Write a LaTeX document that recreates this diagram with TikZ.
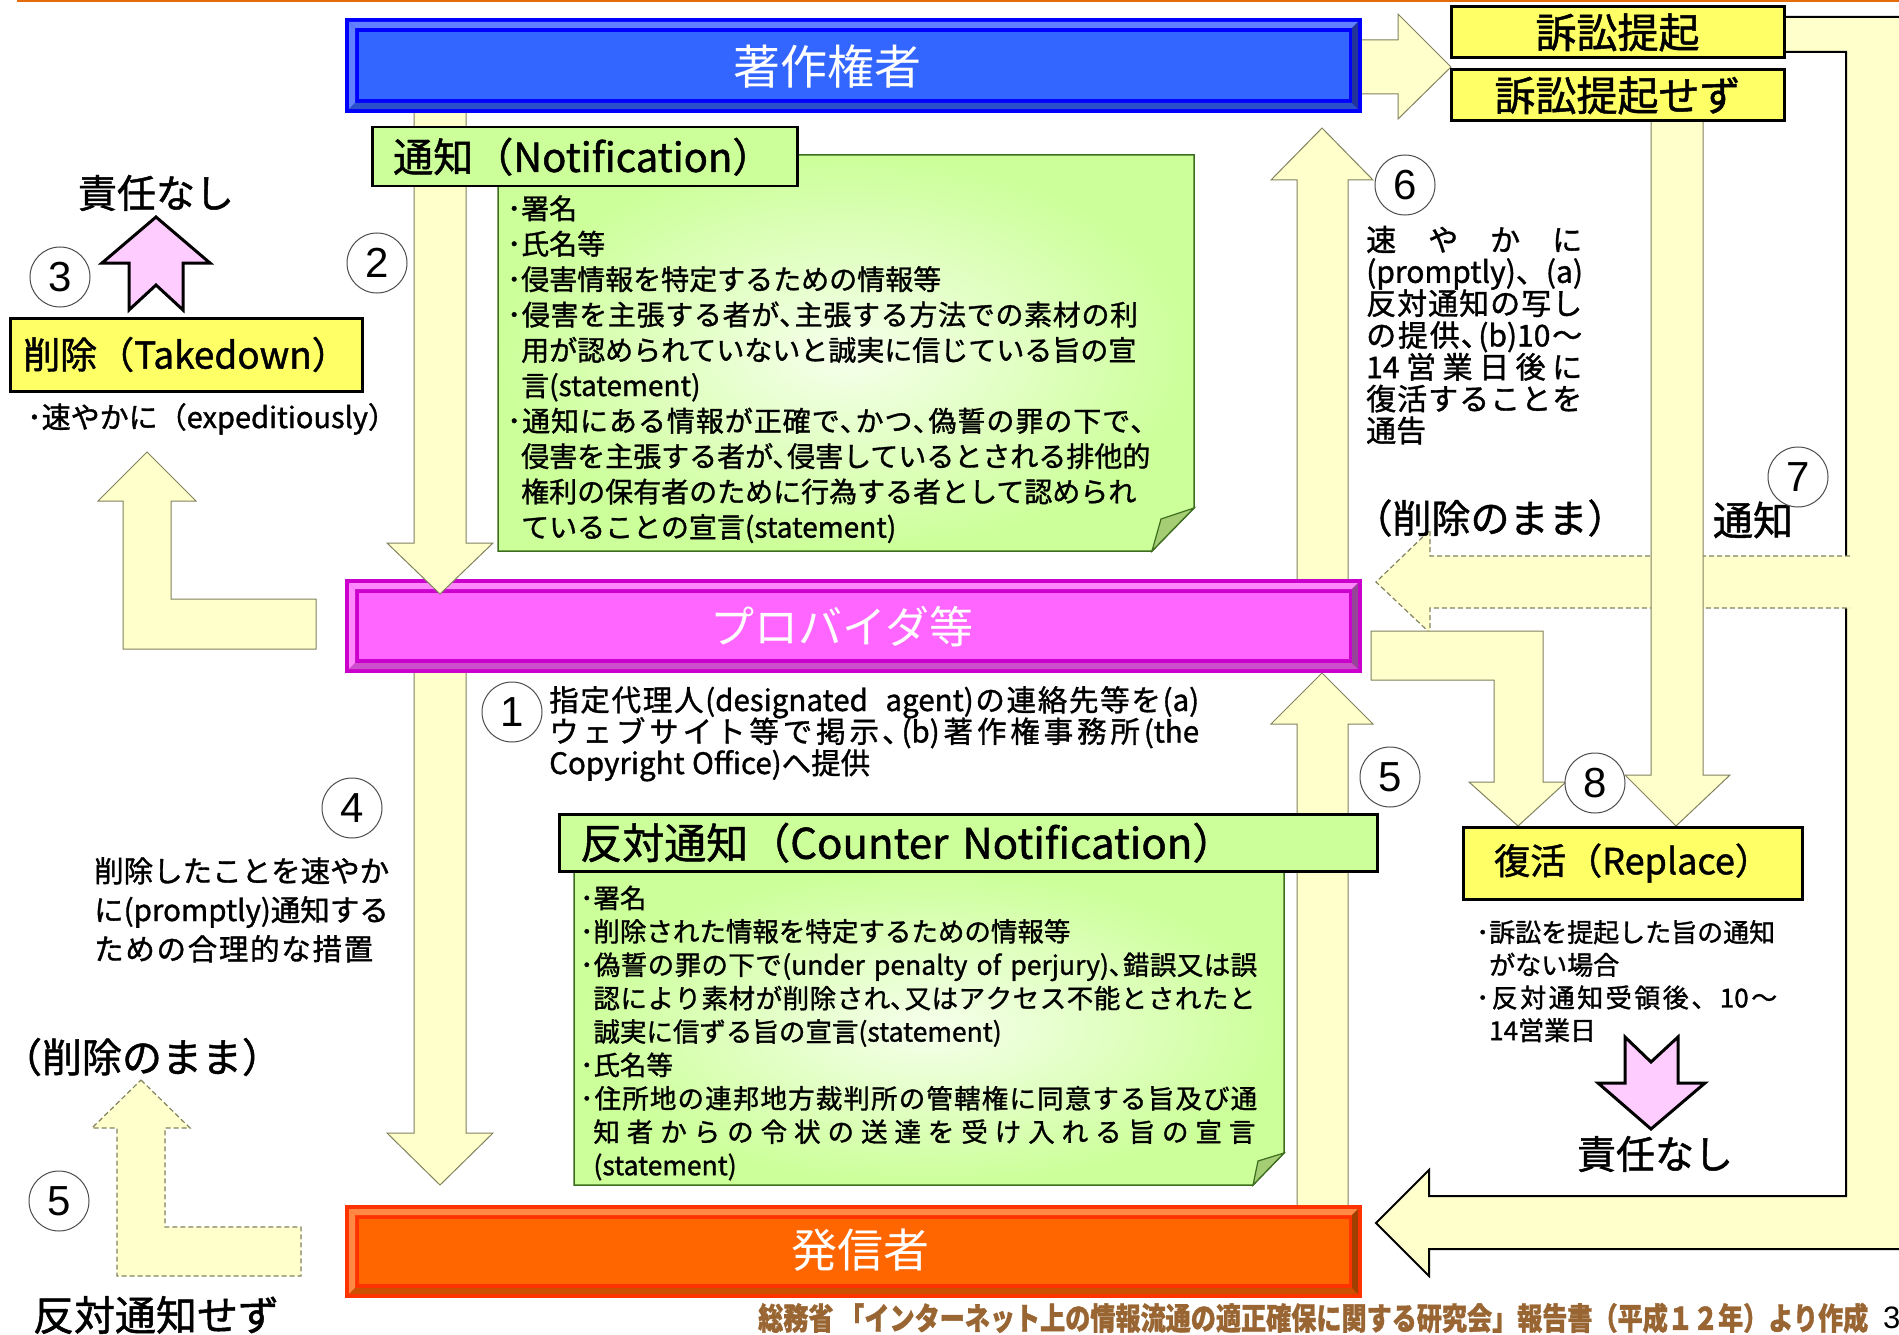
\documentclass[tikz,border=0pt]{standalone}
\usepackage{graphicx}
\usepackage{fontspec}
\setmainfont{Noto Sans CJK JP}[FakeBold=1.2]
\newfontfamily\plainfont{Noto Sans CJK JP}
\newfontfamily\digitfont{Liberation Sans}
\newcommand{\setfs}[2]{\fontsize{#1}{#2}\selectfont\lineskiplimit=-100pt\lineskip=0pt}
\newcommand{\indnt}{\leavevmode\phantom{･}}
\newcommand{\wsp}{\hskip 0.25em plus 4fil}
\makeatletter
\newcommand{\spr}[2]{\leavevmode\hbox to #1pt{\def\spr@first{1}\@tfor\spr@tok:=#2\do{\ifx\spr@first\@empty\hskip 0pt plus 1fil\fi\let\spr@first\@empty\spr@tok}}}
\makeatother
\definecolor{arrY}{RGB}{255,255,204}
\definecolor{arrE}{RGB}{130,130,95}
\definecolor{boxY}{RGB}{255,255,102}
\definecolor{hdrG}{RGB}{204,255,153}
\definecolor{gIn}{RGB}{246,255,236}
\definecolor{gOut}{RGB}{204,255,153}
\definecolor{gEdge}{RGB}{60,110,30}
\definecolor{flapG}{RGB}{165,205,115}
\definecolor{pinkA}{RGB}{255,204,255}
\definecolor{footB}{RGB}{153,102,51}
\definecolor{topO}{RGB}{228,108,10}
\definecolor{bluO}{RGB}{0,0,255}
\definecolor{bluL}{RGB}{96,128,255}
\definecolor{bluD}{RGB}{43,80,204}
\definecolor{bluR}{RGB}{34,51,153}
\definecolor{bluF}{RGB}{51,102,255}
\definecolor{purO}{RGB}{204,0,204}
\definecolor{purL}{RGB}{255,136,255}
\definecolor{purD}{RGB}{204,80,204}
\definecolor{purR}{RGB}{150,70,150}
\definecolor{purF}{RGB}{255,102,255}
\definecolor{orgO}{RGB}{255,51,0}
\definecolor{orgL}{RGB}{255,136,68}
\definecolor{orgD}{RGB}{204,80,0}
\definecolor{orgR}{RGB}{160,64,0}
\definecolor{orgF}{RGB}{255,102,0}
\newcommand{\bevbar}[5]{%
  \fill[#5O] (#1,#2) rectangle (#3,#4);
  \fill[#5L] ({#1+4},{#2+4}) -- ({#3-4},{#2+4}) -- ({#3-10},{#2+10}) -- ({#1+10},{#2+10}) -- cycle;
  \fill[#5L] ({#1+4},{#2+4}) -- ({#1+10},{#2+10}) -- ({#1+10},{#4-10}) -- ({#1+4},{#4-4}) -- cycle;
  \fill[#5D] ({#1+4},{#4-4}) -- ({#3-4},{#4-4}) -- ({#3-10},{#4-10}) -- ({#1+10},{#4-10}) -- cycle;
  \fill[#5R] ({#3-4},{#2+4}) -- ({#3-4},{#4-4}) -- ({#3-10},{#4-10}) -- ({#3-10},{#2+10}) -- cycle;
  \fill[#5F] ({#1+14},{#2+14}) rectangle ({#3-13},{#4-14});
}
\tikzset{
  ya/.style={fill=arrY, draw=arrE, line width=1, line join=miter},
  yabig/.style={fill=arrY, draw=black, line width=2, line join=miter},
  dashln/.style={draw=arrE, line width=1.2, dash pattern=on 5pt off 3pt},
  pinka/.style={fill=pinkA, draw=black, line width=3, line join=miter},
  ybox/.style={fill=boxY, draw=black, line width=3, inner sep=0},
  hdrbox/.style={fill=hdrG, draw=black, line width=2.5, inner ysep=0, align=left},
  numc/.style={circle, draw=black!70, line width=1, fill=white, minimum size=60, inner sep=0, font=\digitfont\fontsize{42}{42}\selectfont},
  lbl/.style={inner sep=0},
  blk/.style={anchor=base west, inner sep=0, align=left},
  bartxt/.style={inner sep=0, text=white, font=\plainfont},
}
\begin{document}
\begin{tikzpicture}[x=1pt,y=-1pt]
\useasboundingbox (0,0) rectangle (1899,1335);
\clip (0,0) rectangle (1899,1335);
\fill[white] (0,0) rectangle (1899,1335);
\draw[topO, line width=3] (17,1) -- (1899,1);

% ---- block arrows behind the bars ----
\filldraw[ya] (1297,1210) -- (1297,724) -- (1271,724) -- (1322,673) -- (1373,724) -- (1348,724) -- (1348,1210) -- cycle;
\filldraw[ya] (1297,585) -- (1297,180) -- (1271,180) -- (1322,128) -- (1373,180) -- (1348,180) -- (1348,585) -- cycle;
\filldraw[ya] (414,668) -- (414,1133) -- (387,1133) -- (440,1185) -- (493,1133) -- (466,1133) -- (466,668) -- cycle;
\filldraw[ya] (1355,40) -- (1398,40) -- (1398,14) -- (1451,67) -- (1398,119) -- (1398,94) -- (1355,94) -- cycle;

% left takedown arrow
\filldraw[ya] (147,452) -- (196,501) -- (171,501) -- (171,599) -- (316,599) -- (316,649) -- (123,649) -- (123,501) -- (98,501) -- cycle;
% left dashed arrow
\fill[arrY] (141,1080) -- (190,1128) -- (165,1128) -- (165,1227) -- (301,1227) -- (301,1276) -- (117,1276) -- (117,1128) -- (92,1128) -- cycle;
\draw[dashln] (141,1080) -- (190,1128) -- (165,1128) -- (165,1227) -- (301,1227) -- (301,1276) -- (117,1276) -- (117,1128) -- (92,1128) -- cycle;

% big right arrow
\filldraw[yabig] (1784,17) -- (1910,17) -- (1910,1249) -- (1429,1249) -- (1429,1276) -- (1376,1223) -- (1429,1170) -- (1429,1196) -- (1846,1196) -- (1846,52) -- (1784,52) -- cycle;
% right dashed arrow
\fill[arrY] (1852,556) -- (1430,556) -- (1430,530) -- (1376,582) -- (1430,633) -- (1430,608) -- (1852,608) -- cycle;
\draw[dashln] (1850,556) -- (1430,556) -- (1430,530) -- (1376,582) -- (1430,633) -- (1430,608) -- (1850,608);
% vertical arrow 7
\filldraw[ya] (1651,121) -- (1651,775) -- (1625,775) -- (1676,826) -- (1730,775) -- (1703,775) -- (1703,121) -- cycle;
% L arrow to replace
\filldraw[ya] (1371,631) -- (1543,631) -- (1543,782) -- (1566,782) -- (1518,826) -- (1469,782) -- (1494,782) -- (1494,680) -- (1371,680) -- cycle;

% ---- bars ----
\bevbar{345}{579}{1362}{673}{pur}
\bevbar{345}{1205}{1362}{1298}{org}
\filldraw[ya] (414,108) -- (414,543) -- (387,543) -- (440,594) -- (493,543) -- (466,543) -- (466,108) -- cycle;
\bevbar{345}{18}{1362}{113}{blu}

\node[bartxt] (owner) at (827,67) {\setfs{47}{47}著作権者};
\node[bartxt] (provider) at (842,627) {\setfs{44}{44}プロバイダ等};
\node[bartxt] (sender) at (860,1250) {\setfs{46}{46}発信者};

% ---- notification box ----
\shadedraw[inner color=gIn, outer color=gOut, draw=gEdge, line width=1.5] (498,155) -- (1194,155) -- (1194,508) -- (1152,551) -- (498,551) -- cycle;
\filldraw[fill=flapG, draw=gEdge, line width=1.2] (1152,551) -- (1194,508) -- (1161,519) -- cycle;
\node[hdrbox, anchor=north west, text width=383, inner xsep=21, minimum height=59, font=\setfs{40}{40}] (notifHdr) at (371,126) {通知（Notification）};
\node[blk, text width=760] (notifTxt) at (507,219) {\setfs{28}{35.4}%
･署名\\
･氏名等\\
･侵害情報を特定するための情報等\\
\spr{631}{･侵害を主張する者が､主張する方法での素材の利}\\
\indnt 用が認められていないと誠実に信じている旨の宣\\
\indnt 言(statement)\\
\spr{638}{･通知にある情報が正確で､かつ､偽誓の罪の下で､}\\
\indnt 侵害を主張する者が､侵害しているとされる排他的\\
\indnt 権利の保有者のために行為する者として認められ\\
\indnt ていることの宣言(statement)\par};

% ---- counter notification box ----
\shadedraw[inner color=gIn, outer color=gOut, draw=gEdge, line width=1.5] (574,870) -- (1284,870) -- (1284,1153) -- (1253,1185) -- (574,1185) -- cycle;
\filldraw[fill=flapG, draw=gEdge, line width=1.2] (1253,1185) -- (1284,1153) -- (1258,1161) -- cycle;
\node[hdrbox, anchor=north west, text width=776, inner xsep=21, minimum height=57, font=\setfs{42}{42}] (cntHdr) at (558,813) {反対通知（Counter Notification）};
\node[blk, text width=760] (cntTxt) at (580,908) {\setfs{26.5}{33.4}%
･署名\\
･削除された情報を特定するための情報等\\
\spr{677}{･偽誓の罪の下で{(under}\wsp{penalty}\wsp{of}\wsp{perjury)}､錯誤又は誤}\\
\indnt\spr{662}{認により素材が削除され､又はアクセス不能とされたと}\\
\indnt 誠実に信ずる旨の宣言(statement)\\
･氏名等\\
\spr{677}{･住所地の連邦地方裁判所の管轄権に同意する旨及び通}\\
\indnt\spr{662}{知者からの令状の送達を受け入れる旨の宣言}\\
\indnt (statement)\par};

% ---- yellow boxes ----
\node[ybox, minimum width=333, minimum height=51, font=\setfs{41}{41}] (suit) at (1617.5,32.5) {訴訟提起};
\node[ybox, minimum width=333, minimum height=51, font=\setfs{41}{41}] (nosuit) at (1617.5,95.5) {訴訟提起せず};
\node[ybox, minimum width=352, minimum height=73, font=\setfs{37}{37}] (takedown) at (186,354.5) {削除（Takedown）};
\node[ybox, minimum width=339, minimum height=72, font=\setfs{36}{36}] (replace) at (1632.5,863) {復活（Replace）};

% ---- pink arrows ----
\filldraw[pinka] (156,217) -- (210,263) -- (183,263) -- (183,310) -- (156,285) -- (129,310) -- (129,263) -- (102,263) -- cycle;
\filldraw[pinka] (1625,1037) -- (1651,1062) -- (1678,1037) -- (1678,1083) -- (1705,1083) -- (1651,1129) -- (1598,1083) -- (1625,1083) -- cycle;

% ---- texts ----
\node[lbl, font=\setfs{39}{39}] (noLiabL) at (156,193) {責任なし};
\node[lbl, font=\setfs{39}{39}] (noLiabR) at (1655,1154) {責任なし};
\node[lbl, anchor=base west, font=\setfs{29}{29}] (expedit) at (27,428) {･速やかに（expeditiously）};
\node[lbl, font=\setfs{40}{40}] (remainL) at (142,1057) {（削除のまま）};
\node[lbl, font=\setfs{39}{39}] (remainR) at (1490,518) {（削除のまま）};
\node[lbl, font=\setfs{41}{41}] (noCounter) at (156,1315) {反対通知せず};
\node[lbl, font=\setfs{40}{40}] (notice7) at (1753,520) {通知};

\node[blk, text width=700] (txtOne) at (549,711) {\setfs{29.5}{31.5}%
\spr{650}{指定代理人{(designated}\wsp{agent)}の連絡先等を{(a)}}\\
\spr{650}{ウェブサイト等で掲示､{(b)}著作権事務所{(the}}\\
Copyright\hspace{0.25em}Office)へ提供\par};

\node[blk, text width=330] (txtFour) at (94,882) {\setfs{29.5}{39}%
\spr{294}{削除したことを速やか}\\
\spr{294}{に{(promptly)}通知する}\\
\spr{279}{ための合理的な措置}\par};

\node[blk, text width=260] (txtSix) at (1366,251) {\setfs{30}{31.8}%
\spr{216}{速やかに}\\
\spr{216}{{(promptly)}、{(a)}}\\
\spr{216}{反対通知の写し}\\
\spr{216}{の提供､{(b)10}～}\\
\spr{216}{{14}営業日後に}\\
\spr{216}{復活することを}\\
通告\par};

\node[blk, text width=330] (txtReplace) at (1476,942) {\setfs{26}{32.7}%
･訴訟を提起した旨の通知\\
\indnt がない場合\\
\spr{301}{･反対通知受領後、{10}～}\\
\indnt 14営業日\par};

% ---- numbered circles ----
\node[numc] (cOne) at (512,712) {1};
\node[numc] (cTwo) at (377,263) {2};
\node[numc] (cThree) at (60,277) {3};
\node[numc] (cFour) at (352,808) {4};
\node[numc] (cFiveL) at (59,1201) {5};
\node[numc] (cFiveR) at (1390,777) {5};
\node[numc] (cSix) at (1405,185) {6};
\node[numc] (cSeven) at (1798,477) {7};
\node[numc] (cEight) at (1595,783) {8};

% ---- footer ----
\node[lbl, anchor=west, text=footB] (footer) at (758,1318) {\scalebox{0.81}[1]{\setfs{31}{31}\bfseries 総務省\ 「インターネット上の情報流通の適正確保に関する研究会」報告書（平成１２年）より作成}};
\node[lbl, anchor=west, font=\digitfont\fontsize{31}{31}\selectfont] (pgno) at (1883,1318) {3};
\end{tikzpicture}
\end{document}
